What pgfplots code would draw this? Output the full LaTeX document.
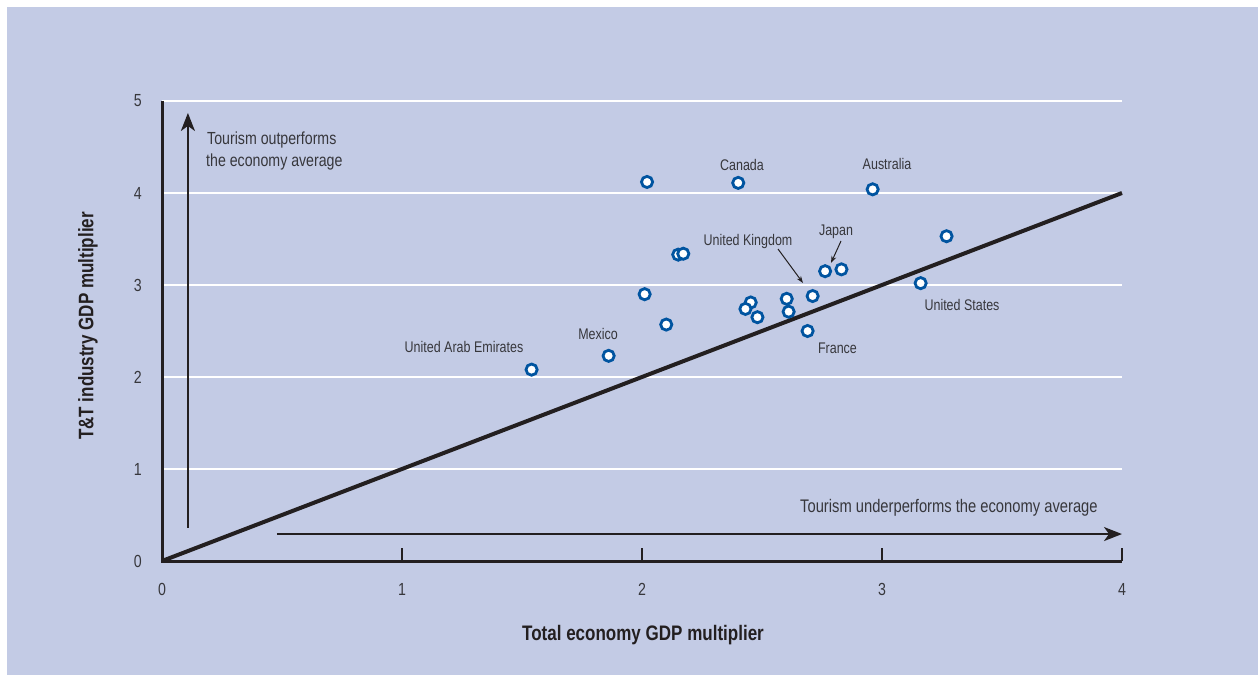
\documentclass[border=0pt]{standalone}
\usepackage{fontspec}
\setmainfont{Liberation Sans}[FakeStretch=0.81]
\usepackage{pgfplots}
\pgfplotsset{compat=1.18}
\usetikzlibrary{arrows.meta}
\definecolor{bg}{RGB}{195,203,229}
\definecolor{ink}{RGB}{35,31,32}
\definecolor{txt}{RGB}{55,55,60}
\definecolor{mblue}{RGB}{0,84,160}
\newcommand{\tickf}{\fontsize{17.5}{20}\selectfont}
\newcommand{\lblf}{\fontsize{15.4}{18}\selectfont}
\newcommand{\annf}{\fontsize{17.5}{21}\selectfont}
\newcommand{\axf}{\fontsize{21}{25}\selectfont\bfseries}
\pgfplotstableread{
x y
2.021 4.12
2.401 4.11
2.961 4.04
3.269 3.53
2.151 3.33
2.172 3.34
2.763 3.15
2.831 3.17
3.161 3.02
2.011 2.90
2.711 2.88
2.603 2.85
2.453 2.81
2.431 2.74
2.481 2.65
2.611 2.71
2.101 2.57
2.690 2.50
1.861 2.23
1.540 2.08
}\pts
\begin{document}
\begin{tikzpicture}[x=1pt,y=1pt]
\fill[white] (0,0) rectangle (1258,675);
\fill[bg] (7,0) rectangle (1258,668);
\begin{axis}[at={(162pt,114pt)}, anchor=south west, scale only axis,
  width=960pt, height=460pt, xmin=0, xmax=4, ymin=0, ymax=5,
  xtick={0,1,2,3,4}, ytick={0,1,2,3,4,5},
  xticklabels={{\tickf 0},{\tickf 1},{\tickf 2},{\tickf 3},{\tickf 4}},
  yticklabels={{\tickf 0},{\tickf 1},{\tickf 2},{\tickf 3},{\tickf 4},{\tickf 5}},
  axis line style={draw=none}, xtick pos=lower, ytick pos=left, tick align=inside,
  major tick length=13pt, xtick style={ink, line width=1.6pt}, ytick style={draw=none},
  ymajorgrids, grid style={white, line width=2pt},
  xticklabel style={text=txt, anchor=north, inner sep=0pt, yshift=-22pt},
  yticklabel style={text=txt, anchor=east, inner sep=0pt, xshift=-20pt},
  clip=false]
\draw[ink, line width=4pt] (axis cs:0,0) -- (axis cs:4,4);
\draw[ink, line width=3pt] (axis cs:0,5) -- (axis cs:0,0) -- (axis cs:4,0);
\draw[ink, line width=2pt, -{Stealth[length=18pt,width=14pt,inset=5pt]}] (axis cs:0.108,0.359) -- (axis cs:0.108,4.87);
\draw[ink, line width=2pt, -{Stealth[length=18pt,width=14pt,inset=5pt]}] (axis cs:0.479,0.293) -- (axis cs:4.0,0.293);
\addplot[only marks, mark=*, mark size=5.6pt, mark options={fill=white, draw=mblue, line width=2.8pt}] table {\pts};
\end{axis}
% annotations
\node[anchor=base west, inner sep=0pt, font=\annf, text=txt] at (207,530) {Tourism outperforms};
\node[anchor=base west, inner sep=0pt, font=\annf, text=txt] at (206,508) {the economy average};
\node[anchor=base west, inner sep=0pt, font=\fontsize{18.2}{21}\selectfont, text=txt] at (800,162) {Tourism underperforms the economy average};
% data labels
\node[anchor=base, inner sep=0pt, font=\lblf, text=txt] at (742,504.3) {Canada};
\node[anchor=base, inner sep=0pt, font=\lblf, text=txt] at (887,505) {Australia};
\node[anchor=base, inner sep=0pt, font=\lblf, text=txt] at (836,439) {Japan};
\node[anchor=base, inner sep=0pt, font=\lblf, text=txt] at (748,429) {United Kingdom};
\node[anchor=base, inner sep=0pt, font=\lblf, text=txt] at (962,364.3) {United States};
\node[anchor=base, inner sep=0pt, font=\lblf, text=txt] at (837.5,321) {France};
\node[anchor=base, inner sep=0pt, font=\lblf, text=txt] at (598,335) {Mexico};
\node[anchor=base, inner sep=0pt, font=\lblf, text=txt] at (464,322.7) {United Arab Emirates};
\draw[ink, line width=1pt, -{Stealth[length=7pt,width=5pt]}] (778,426) -- (803,392);
\draw[ink, line width=1pt, -{Stealth[length=7pt,width=5pt]}] (841,434) -- (831,412);
% axis labels
\node[anchor=base, inner sep=0pt, font=\axf, text=ink] at (643,35) {Total economy GDP multiplier};
\node[anchor=base, inner sep=0pt, font=\axf, text=ink, rotate=90] at (93.3,349) {T\&T industry GDP multiplier};
\pgfresetboundingbox
\path[use as bounding box] (0,0) rectangle (1258,675);
\end{tikzpicture}
\end{document}
